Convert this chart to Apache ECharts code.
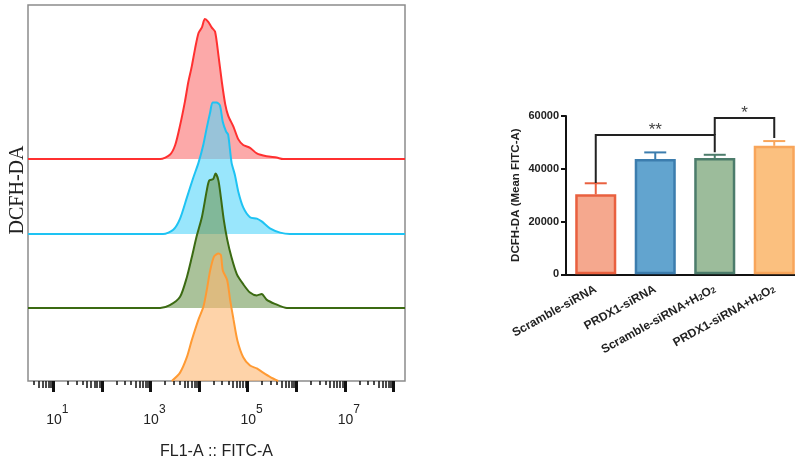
<!DOCTYPE html>
<html>
<head>
<meta charset="utf-8">
<script src="https://cdn.jsdelivr.net/npm/echarts@6/dist/echarts.min.js"></script>
<style>
  html, body { margin: 0; padding: 0; background: #fff; }
  #main { width: 795px; height: 465px; }
</style>
</head>
<body>
<div id="main"></div>
<script>
// histogram x values are log10(FL1-A :: FITC-A), y values are % of the tallest peak
const logMin = 0.48
const logMax = 8.24

const scrambleX = [3.20, 3.40, 3.51, 3.61, 3.71, 3.78, 3.85, 3.92, 3.99, 4.06, 4.12, 4.19, 4.26, 4.33, 4.40, 4.47, 4.54, 4.60, 4.71, 4.81, 4.91, 5.05, 5.19, 5.39, 5.60, 5.73]
const scrambleY = [0, 3, 10, 24, 41, 55, 66, 79, 90, 94, 100, 98, 94, 91, 74, 55, 39, 31, 23, 14, 10, 8, 4, 2, 1, 0]

const prdx1X = [3.26, 3.47, 3.61, 3.75, 3.88, 3.99, 4.09, 4.16, 4.23, 4.28, 4.36, 4.43, 4.49, 4.56, 4.60, 4.67, 4.74, 4.81, 4.91, 5.05, 5.19, 5.29, 5.46, 5.67, 5.87]
const prdx1Y = [0, 3, 11, 26, 40, 51, 64, 76, 87, 94, 94, 92, 80, 73, 71, 51, 42, 30, 19, 12, 11, 9, 4, 1, 0]

const scrambleH2o2X = [3.20, 3.40, 3.61, 3.75, 3.85, 3.95, 4.06, 4.16, 4.21, 4.29, 4.34, 4.40, 4.45, 4.51, 4.58, 4.67, 4.78, 4.91, 5.05, 5.19, 5.29, 5.39, 5.56, 5.81]
const scrambleH2o2Y = [0, 2, 8, 22, 36, 51, 65, 84, 91, 92, 96, 91, 79, 63, 49, 36, 24, 17, 11, 9, 10, 6, 3, 0]

const prdx1H2o2X = [3.44, 3.61, 3.75, 3.85, 3.99, 4.09, 4.16, 4.23, 4.31, 4.40, 4.45, 4.49, 4.58, 4.64, 4.71, 4.79, 4.91, 5.05, 5.19, 5.32, 5.46, 5.63]
const prdx1H2o2Y = [0, 6, 17, 29, 44, 53, 65, 79, 89, 91, 90, 79, 72, 58, 44, 29, 17, 11, 9, 6, 3, 0]

// log axis ticks
const decades = [0, 1, 2, 3, 4, 5, 6, 7, 8]
const labelDecades = [1, 3, 5, 7]

// bar chart
const groups = ['Scramble-siRNA', 'PRDX1-siRNA', 'Scramble-siRNA+H2O2', 'PRDX1-siRNA+H2O2']
const meanFitc = [30300, 43700, 44100, 48700]
const errFitc = [4200, 2500, 1200, 1800]

// significance brackets: group index from/to, bracket top, leg ends
const sigFrom = [0, 2]
const sigTo = [2, 3]
const sigTop = [52800, 59200]
const sigLeftEnd = [34600, 52800]
const sigRightEnd = [46300, 51700]
const sigMark = ['**', '*']

const barFill = ['#F5A88E', '#62A4CF', '#9CBC9B', '#FBC07F']
const barEdge = ['#E9603F', '#3C7DAE', '#4C7C6B', '#F8A55A']

const inRange = v => v >= logMin && v <= logMax
const majorTicks = decades.filter(inRange)
const longMinor = []
const shortMinor = []
decades.forEach(d => {
  for (let k = 2; k <= 9; k++) {
    const v = d + Math.log10(k)
    if (!inRange(v)) continue
    if (k >= 5) longMinor.push(v)
    else shortMinor.push(v)
  }
})

const ridgeTops = [5, 80, 154, 227]
const ridgeH = 154

function tickAxis (values, len, width, withLabel) {
  return {
    type: 'value',
    gridIndex: 0,
    min: logMin,
    max: logMax,
    position: 'bottom',
    axisLine: { show: false },
    splitLine: { show: false },
    axisTick: { show: true, customValues: values, length: len, lineStyle: { color: '#111', width: width } },
    axisLabel: withLabel ? {
      show: true,
      customValues: labelDecades,
      margin: 23,
      formatter: v => '{b|10}{s|' + v + '}',
      rich: {
        b: { fontSize: 14, color: '#222', fontFamily: 'Liberation Sans', padding: [9, 0, 0, 8] },
        s: { fontSize: 12, color: '#222', fontFamily: 'Liberation Sans', verticalAlign: 'top' }
      }
    } : { show: false },
    name: withLabel ? 'FL1-A :: FITC-A' : '',
    nameLocation: 'middle',
    nameGap: 63,
    nameTextStyle: { fontSize: 16, color: '#222', fontFamily: 'Liberation Sans' }
  }
}

function ridge (i, xs, ys, line, fill, fullBase) {
  const pts = xs.map((x, j) => [x, ys[j]])
  const data = fullBase ? [[logMin, 0]].concat(pts, [[logMax, 0]]) : pts
  return {
    type: 'line',
    xAxisIndex: i + 3,
    yAxisIndex: i + 1,
    data: data,
    smooth: 0.25,
    symbol: 'none',
    silent: true,
    lineStyle: { color: line, width: 2 },
    areaStyle: { color: fill, opacity: 1, origin: 'start' }
  }
}

const grids = [{ left: 28, top: 5, width: 377, height: 376, show: true, borderColor: '#8c8c8c', borderWidth: 1.5, backgroundColor: 'transparent', outerBoundsMode: 'none' }]
ridgeTops.forEach(t => grids.push({ left: 28, top: t, width: 377, height: ridgeH, outerBoundsMode: 'none' }))
grids.push({ left: 566, top: 116, width: 238, height: 158.3, outerBoundsMode: 'none' })

const xAxes = [
  tickAxis(majorTicks, 11, 3, true),
  tickAxis(longMinor, 7, 1.5, false),
  tickAxis(shortMinor, 4, 1.5, false)
]
ridgeTops.forEach((t, i) => xAxes.push({ type: 'value', gridIndex: i + 1, min: logMin, max: logMax, show: false }))
xAxes.push({
  type: 'category',
  gridIndex: 5,
  data: groups,
  axisLine: { lineStyle: { color: '#111', width: 2 } },
  axisTick: { alignWithLabel: true, length: 5, lineStyle: { color: '#111', width: 2 } },
  axisLabel: {
    interval: 0,
    rotate: 29,
    margin: 14,
    color: '#222',
    fontWeight: 'bold',
    fontSize: 12,
    fontFamily: 'Liberation Sans',
    formatter: v => v.replace('H2O2', 'H{sub|2}O{sub|2}'),
    rich: { sub: { fontSize: 8.5, fontWeight: 'bold', color: '#222', verticalAlign: 'bottom', lineHeight: 9 } }
  }
})

const yAxes = [{
  type: 'value',
  gridIndex: 0,
  axisLine: { show: false },
  axisTick: { show: false },
  axisLabel: { show: false },
  splitLine: { show: false },
  name: 'DCFH-DA',
  nameLocation: 'middle',
  nameGap: 0,
  nameTextStyle: { fontSize: 20, color: '#222', fontFamily: 'Liberation Serif', padding: [0, 0, 0, 6] }
}]
ridgeTops.forEach((t, i) => yAxes.push({ type: 'value', gridIndex: i + 1, min: 0, max: 110, show: false }))
yAxes.push({
  type: 'value',
  gridIndex: 5,
  min: 0,
  max: 60000,
  interval: 20000,
  axisLine: { show: true, lineStyle: { color: '#111', width: 2 } },
  axisTick: { show: true, length: 5, lineStyle: { color: '#111', width: 2 } },
  axisLabel: { margin: 7, color: '#222', fontWeight: 'bold', fontSize: 11, fontFamily: 'Liberation Sans', formatter: v => String(v) },
  splitLine: { show: false },
  name: 'DCFH-DA (Mean FITC-A)',
  nameLocation: 'middle',
  nameGap: 44,
  nameTextStyle: { fontSize: 11.5, fontWeight: 'bold', color: '#222', fontFamily: 'Liberation Sans' }
})

const option = {
  backgroundColor: '#fff',
  animation: false,
  grid: grids,
  xAxis: xAxes,
  yAxis: yAxes,
  series: [
    ridge(0, scrambleX, scrambleY, '#FF3030', 'rgba(250,112,112,0.6)', true),
    ridge(1, prdx1X, prdx1Y, '#1EC3F3', 'rgba(85,213,250,0.6)', true),
    ridge(2, scrambleH2o2X, scrambleH2o2Y, '#3B6A12', 'rgba(113,153,87,0.6)', true),
    ridge(3, prdx1H2o2X, prdx1H2o2Y, '#FF9A33', 'rgba(253,182,112,0.6)', false),
    {
      type: 'bar',
      xAxisIndex: 7,
      yAxisIndex: 5,
      barWidth: '69%',
      silent: true,
      data: meanFitc.map((v, i) => ({
        value: v,
        itemStyle: { color: barFill[i], borderColor: barEdge[i], borderWidth: 2.5 }
      }))
    },
    {
      type: 'custom',
      xAxisIndex: 7,
      yAxisIndex: 5,
      silent: true,
      z: 3,
      data: meanFitc.map((v, i) => [i, v, v + errFitc[i]]),
      renderItem: (params, api) => {
        const i = params.dataIndex
        const base = api.coord([api.value(0), api.value(1)])
        const top = api.coord([api.value(0), api.value(2)])
        const style = { stroke: barEdge[i], lineWidth: 2, fill: null }
        return {
          type: 'group',
          children: [
            { type: 'line', shape: { x1: base[0], y1: base[1], x2: top[0], y2: top[1] }, style: style },
            { type: 'line', shape: { x1: top[0] - 11, y1: top[1], x2: top[0] + 11, y2: top[1] }, style: style }
          ]
        }
      }
    },
    {
      type: 'custom',
      xAxisIndex: 7,
      yAxisIndex: 5,
      silent: true,
      z: 4,
      encode: { x: 0, y: 1 },
      data: sigFrom.map((f, i) => [f, sigTop[i]]),
      renderItem: (params, api) => {
        const i = params.dataIndex
        const a = api.coord([sigFrom[i], sigLeftEnd[i]])
        const b = api.coord([sigFrom[i], sigTop[i]])
        const c = api.coord([sigTo[i], sigTop[i]])
        const d = api.coord([sigTo[i], sigRightEnd[i]])
        return {
          type: 'group',
          children: [
            {
              type: 'polyline',
              shape: { points: [a, b, c, d] },
              style: { stroke: '#222', lineWidth: 2, fill: null }
            },
            {
              type: 'text',
              x: (b[0] + c[0]) / 2,
              y: b[1] - 13,
              style: { text: sigMark[i], fontSize: 17, fill: '#444', fontFamily: 'Liberation Sans', align: 'center', verticalAlign: 'top' }
            }
          ]
        }
      }
    }
  ]
}

const chart = echarts.init(document.getElementById('main'), null, { renderer: 'canvas' })
chart.setOption(option)
</script>
</body>
</html>
